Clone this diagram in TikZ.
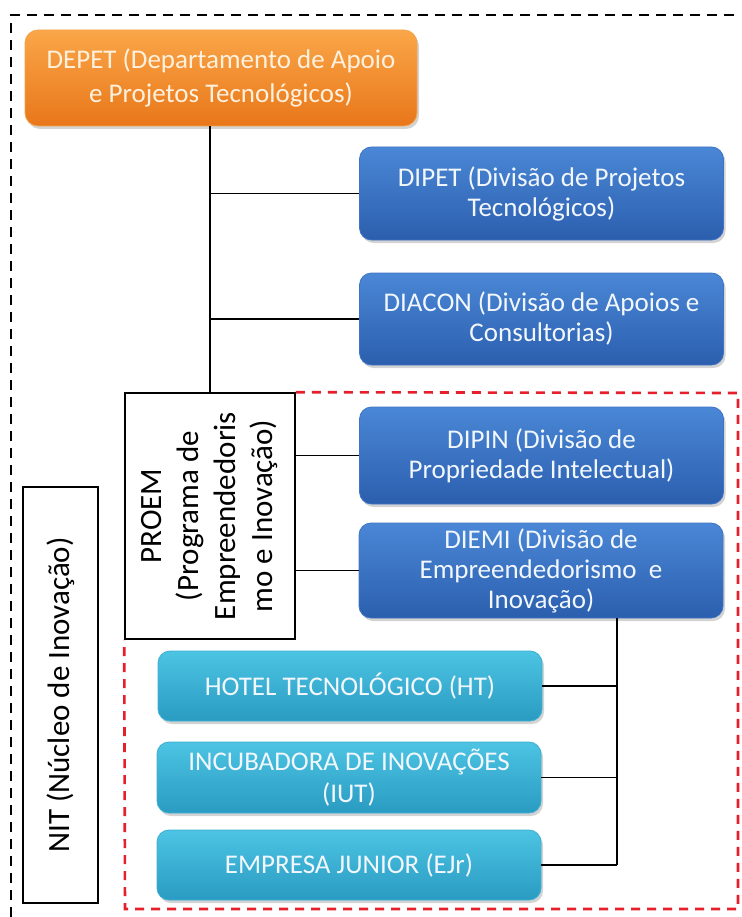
\documentclass[tikz,border=0pt]{standalone}
\usepackage{fontspec}
\setmainfont{Carlito}
\usepackage{graphicx}
\usetikzlibrary{positioning,shadows}
\definecolor{cOrgT}{HTML}{FAA648}
\definecolor{cOrgB}{HTML}{E8771A}
\definecolor{cOrgE}{HTML}{F6A24A}
\definecolor{cOrgX}{HTML}{FFF1DE}
\definecolor{cBluT}{HTML}{4A87D6}
\definecolor{cBluB}{HTML}{2B5FAE}
\definecolor{cBluE}{HTML}{3F74C4}
\definecolor{cCyaT}{HTML}{4CC4E3}
\definecolor{cCyaB}{HTML}{2A9BC2}
\definecolor{cCyaE}{HTML}{3BB0D4}
\definecolor{cBoxX}{HTML}{F2F7FD}
\definecolor{cRed}{HTML}{E3202C}
\tikzset{
  deptbox/.style={rounded corners=13pt,draw=cOrgE,thick,top color=cOrgT,
              bottom color=cOrgB,text=cOrgX,inner sep=0pt,align=center,
              font=\fontsize{27}{34}\selectfont,
              drop shadow={opacity=.35,shadow xshift=2pt,shadow yshift=-3pt}},
  divbox/.style={rounded corners=12pt,draw=cBluE,thick,top color=cBluT,
              bottom color=cBluB,text=cBoxX,inner sep=0pt,align=center,
              minimum width=364pt,font=\fontsize{27}{30}\selectfont,
              drop shadow={opacity=.35,shadow xshift=2pt,shadow yshift=-3pt}},
  unitbox/.style={rounded corners=12pt,draw=cCyaE,thick,top color=cCyaT,
              bottom color=cCyaB,text=cBoxX,inner sep=0pt,align=center,
              minimum width=384pt,minimum height=70pt,
              font=\fontsize{27}{32}\selectfont,
              drop shadow={opacity=.35,shadow xshift=2pt,shadow yshift=-3pt}},
  plainbox/.style={draw=black,line width=1.6pt,fill=white,inner sep=0pt,
              align=center,font=\fontsize{31}{37}\selectfont},
  link/.style={line width=1.4pt,black},
  nitframe/.style={line width=2.2pt,dash pattern=on 10pt off 7pt},
  innovframe/.style={line width=2.6pt,cRed,dash pattern=on 9pt off 7pt},
}
\begin{document}
\begin{tikzpicture}[x=1pt,y=-1pt]
  \useasboundingbox (0,0) rectangle (741,917);
  % outer frames
  \coordinate (nitbl) at (11,917);
  \coordinate (nittr) at (741,15);
  \draw[nitframe] (nitbl) |- (nittr);
  \node[plainbox,minimum width=170pt,minimum height=246pt] (proem) at (210,516)
    {\rotatebox{90}{\begin{tabular}{@{}c@{}}PROEM\\(Programa de\\Empreendedoris\\mo e Inovação)\end{tabular}}};
  \coordinate (redne) at (738,393);
  \coordinate (redsw) at (125,909);
  \draw[innovframe] (proem.north east) -- (redne) |- (redsw) -- (proem.south west);
  \node[plainbox,minimum width=75pt,minimum height=416pt] (nit) at (60.5,695)
    {\rotatebox{90}{NIT (Núcleo de Inovação)}};
  % boxes
  \node[deptbox,minimum width=392pt,minimum height=96pt] (depet) at (221,78)
    {DEPET (Departamento de Apoio\\e Projetos Tecnológicos)};
  \node[divbox,minimum height=93pt] (dipet) at (541.5,193.5)
    {DIPET (Divisão de Projetos\\Tecnológicos)};
  \node[divbox,minimum height=92pt] (diacon) at (541.5,319)
    {DIACON (Divisão de Apoios e\\Consultorias)};
  \node[divbox,minimum height=97pt] (dipin) at (541.5,455.5)
    {DIPIN (Divisão de\\Propriedade Intelectual)};
  \node[divbox,minimum height=95pt] (diemi) at (541,570.5)
    {DIEMI (Divisão de\\Empreendedorismo\ \ e\\Inovação)};
  \node[unitbox] (ht) at (350,686) {HOTEL TECNOLÓGICO (HT)};
  \node[unitbox,minimum height=71pt] (iut) at (349,777.5)
    {INCUBADORA DE INOVAÇÕES\\(IUT)};
  \node[unitbox] (ejr) at (349,865) {EMPRESA JUNIOR (EJr)};
  % links
  \coordinate (bus) at (617,0);
  \draw[link] (depet.south -| proem.north) -- (proem.north);
  \draw[link] (dipet.west -| proem.north) -- (dipet.west);
  \draw[link] (diacon.west -| proem.north) -- (diacon.west);
  \draw[link] (proem.east |- dipin.west) -- (dipin.west);
  \draw[link] (proem.east |- diemi.west) -- (diemi.west);
  \draw[link] (bus |- diemi.south) -- (bus |- ejr.east);
  \foreach \u in {ht,iut,ejr}
    \draw[link] (\u.east) -- (bus |- \u.east);
\end{tikzpicture}
\end{document}
